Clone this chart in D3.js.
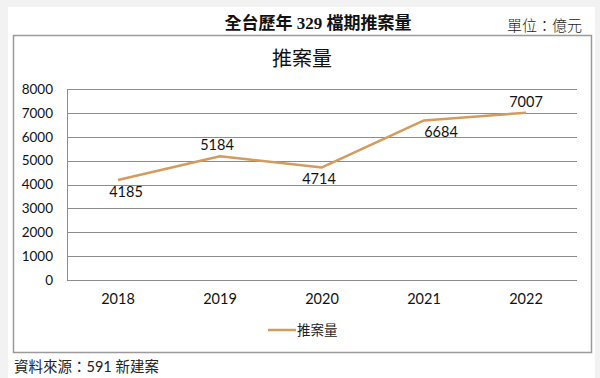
<!DOCTYPE html>
<html><head><meta charset="utf-8">
<script src="https://cdn.jsdelivr.net/npm/d3@7"></script>
<style>
html,body{margin:0;padding:0;background:#f2f2f2;}
svg{display:block;}
</style></head>
<body>
<svg id="c" width="600" height="378"></svg>
<script>
const years = ["2018","2019","2020","2021","2022"];
const supply = [4185, 5184, 4714, 6684, 7007];
const yTicks = [0,1000,2000,3000,4000,5000,6000,7000,8000];
const seriesName = "推案量";
const mainTitle = "全台歷年 329 檔期推案量";
const unitText = "單位：億元";
const sourceText = "資料來源：591 新建案";
// label placement: below / above, with small horizontal nudges
const labelPos = ["below","above","below","below","above"];
const labelDx = [8,-3,-3,17,0];

const svg = d3.select("#c");
const lineColor = "#D19C5E";
const latin = "Lato, 'Noto Sans CJK TC', sans-serif";
const serif = "'Liberation Serif', 'Noto Sans CJK TC', serif";

svg.append("rect").attr("x",8).attr("y",7).attr("width",587).attr("height",371).attr("fill","#fff");

svg.append("text").attr("x",318).attr("y",29).attr("text-anchor","middle")
  .attr("font-family",serif).attr("font-size",17).attr("font-weight",600).attr("fill","#111").text(mainTitle);
svg.append("text").attr("x",582).attr("y",31).attr("text-anchor","end")
  .attr("font-family",serif).attr("font-size",15).attr("font-weight",300).attr("fill","#222").text(unitText);

// chart box
svg.append("rect").attr("x",13.5).attr("y",35.5).attr("width",578).attr("height",317)
  .attr("fill","#fff").attr("stroke","#9a9a9a").attr("stroke-width",1.5);

svg.append("text").attr("x",302).attr("y",66).attr("text-anchor","middle")
  .attr("font-family",serif).attr("font-size",20).attr("fill","#111").text(seriesName);

const x = d3.scaleBand().domain(years).range([67,577]);
const y = d3.scaleLinear().domain([0,8000]).range([280,89]);

// gridlines
svg.append("g").selectAll("line").data(yTicks).join("line")
  .attr("x1",67).attr("x2",577).attr("y1",d=>Math.round(y(d))+0.5).attr("y2",d=>Math.round(y(d))+0.5)
  .attr("stroke","#8c8c8c").attr("stroke-width",1);
// y axis line
svg.append("line").attr("x1",67.5).attr("x2",67.5).attr("y1",y(8000)).attr("y2",y(0)+0.5)
  .attr("stroke","#8c8c8c");

// y axis labels
const yAxis = d3.axisLeft(y).tickValues(yTicks).tickFormat(d3.format("d")).tickSize(0).tickPadding(14);
const gy = svg.append("g").attr("transform","translate(67,0)").call(yAxis);
gy.select(".domain").remove();
gy.selectAll("text").attr("font-family",latin).attr("font-size",13.5).attr("fill","#111");

// x axis labels
const xAxis = d3.axisBottom(x).tickSize(0).tickPadding(14);
const gx = svg.append("g").attr("transform","translate(0,280)").call(xAxis);
gx.select(".domain").remove();
gx.selectAll("text").attr("font-family",latin).attr("font-size",14.5).attr("fill","#111");

// line
const cx = d=>x(d)+x.bandwidth()/2;
const line = d3.line().x((d,i)=>cx(years[i])).y(d=>y(d));
svg.append("path").datum(supply).attr("d",line).attr("fill","none")
  .attr("stroke",lineColor).attr("stroke-width",2.5).attr("stroke-linejoin","round");

// data labels
svg.append("g").selectAll("text").data(supply).join("text")
  .attr("x",(d,i)=>cx(years[i])+labelDx[i])
  .attr("y",(d,i)=>y(d)+(labelPos[i]==="below"?17:-6))
  .attr("text-anchor","middle").attr("font-family",latin).attr("font-size",14.5).attr("fill","#111")
  .text(d=>d);

// legend
svg.append("line").attr("x1",268).attr("x2",296).attr("y1",330).attr("y2",330)
  .attr("stroke",lineColor).attr("stroke-width",2.5);
svg.append("text").attr("x",297).attr("y",335).attr("font-family",latin).attr("font-size",13.5)
  .attr("fill","#222").text(seriesName);

// source
svg.append("text").attr("x",14).attr("y",372).attr("font-family",latin).attr("font-size",14.5)
  .attr("fill","#222").text(sourceText);
</script>
</body></html>
